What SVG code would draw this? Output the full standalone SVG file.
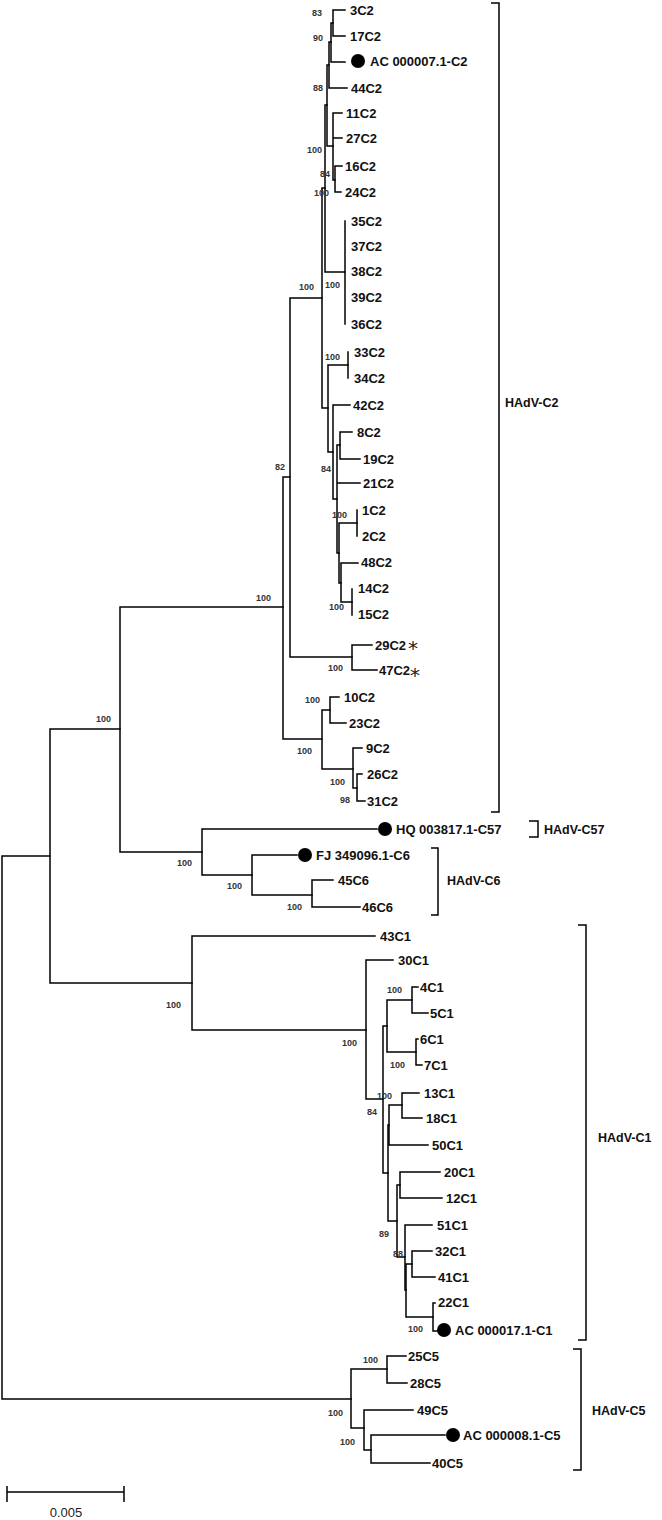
<svg xmlns="http://www.w3.org/2000/svg" width="662" height="1520" viewBox="0 0 662 1520">
<style>
.br{fill:none;stroke:#000;stroke-width:1.5;stroke-linecap:square}
.t{font-family:"Liberation Sans",Arial,sans-serif;font-weight:bold;font-size:13px;fill:#111}
.a{font-family:"DejaVu Sans",sans-serif;font-size:20px;fill:#222}
.b{font-family:"Liberation Sans",Arial,sans-serif;font-weight:bold;font-size:9px;fill:#333}
.g{font-family:"Liberation Sans",Arial,sans-serif;font-weight:bold;font-size:12.5px;fill:#111}
.s{font-family:"Liberation Sans",Arial,sans-serif;font-size:13px;fill:#222}
.k{fill:none;stroke:#000;stroke-width:1.5}
</style>
<rect width="662" height="1520" fill="#fff"/>
<g id="connectors" class="br">
<path d="M2 856V1399M2 856H50M2 1399H351"/>
<path d="M50 729V983M50 729H120M50 983H192"/>
<path d="M120 607V852M120 607H283M120 852H202"/>
<path d="M283 477V739M283 477H290M283 739H322"/>
<path d="M290 298V657M290 298H322M290 657H352"/>
<path d="M322 188V408M322 188H325M322 408H328"/>
<path d="M325 105V272M325 105H327M325 272H345"/>
<path d="M327 65V146M327 65H329M327 146H333"/>
<path d="M329 42V88M329 42H331M329 88H347"/>
<path d="M331 23V62M331 23H333M331 62H345"/>
<path d="M333 10V36M333 10H345M333 36H345"/>
<path d="M333 113V180M333 113H342M333 138H342M333 180H335"/>
<path d="M335 166V192M335 166H342M335 192H341"/>
<path d="M345 221V324"/>
<path d="M328 365V452M328 365H348M328 452H333"/>
<path d="M348 352V378"/>
<path d="M333 405V499M333 405H350M333 499H337"/>
<path d="M337 445V553M337 445H340M337 483H360M337 553H339"/>
<path d="M340 432V459M340 432H352M340 459H360"/>
<path d="M339 523V583M339 523H357M339 583H341"/>
<path d="M357 510V536"/>
<path d="M341 563V602M341 563H358M341 602H352"/>
<path d="M352 589V615"/>
<path d="M352 645V670M352 645H372M352 670H377"/>
<path d="M322 710V769M322 710H330M322 769H353"/>
<path d="M330 697V723M330 697H339M330 723H346"/>
<path d="M353 748V788M353 748H362M353 788H357"/>
<path d="M357 774V801M357 774H362M357 801H365"/>
<path d="M202 829V875M202 829H377M202 875H252"/>
<path d="M252 855V895M252 855H297M252 895H312"/>
<path d="M312 880V907M312 880H333M312 907H360"/>
<path d="M192 936V1030M192 936H375M192 1030H366"/>
<path d="M366 960V1099M366 960H393M366 1099H383"/>
<path d="M383 1026V1173M383 1026H387M383 1173H388"/>
<path d="M387 1000V1052M387 1000H412M387 1052H416"/>
<path d="M412 987V1013M412 987H418M412 1013H428"/>
<path d="M416 1039V1065M416 1039H418M416 1065H422"/>
<path d="M388 1125V1221M388 1125H389M388 1221H397"/>
<path d="M389 1105V1145M389 1105H402M389 1145H428"/>
<path d="M402 1093V1118M402 1093H419M402 1118H422"/>
<path d="M397 1185V1257M397 1185H400M397 1257H405"/>
<path d="M400 1172V1198M400 1172H440M400 1198H442"/>
<path d="M405 1225V1290M405 1225H432M405 1290H406"/>
<path d="M406 1264V1317M406 1264H412M406 1317H433"/>
<path d="M412 1251V1277M412 1251H432M412 1277H435"/>
<path d="M433 1303V1331M433 1303H435M433 1331H437"/>
<path d="M351 1369V1428M351 1369H387M351 1428H364"/>
<path d="M387 1356V1383M387 1356H406M387 1383H407"/>
<path d="M364 1410V1450M364 1410H413M364 1450H371"/>
<path d="M371 1435V1463M371 1435H445M371 1463H430"/>
</g>
<g id="leaves">
<g id="n3C2"><text class="t" x="350" y="15">3C2</text></g>
<g id="n17C2"><text class="t" x="350" y="41">17C2</text></g>
<g id="nAC000007"><circle cx="358" cy="61" r="7"/><text class="t" x="370" y="66">AC 000007.1-C2</text></g>
<g id="n44C2"><text class="t" x="351" y="93">44C2</text></g>
<g id="n11C2"><text class="t" x="346" y="118">11C2</text></g>
<g id="n27C2"><text class="t" x="346" y="143">27C2</text></g>
<g id="n16C2"><text class="t" x="345" y="171">16C2</text></g>
<g id="n24C2"><text class="t" x="345" y="197">24C2</text></g>
<g id="n35C2"><text class="t" x="351" y="226">35C2</text></g>
<g id="n37C2"><text class="t" x="351" y="251">37C2</text></g>
<g id="n38C2"><text class="t" x="351" y="276">38C2</text></g>
<g id="n39C2"><text class="t" x="351" y="302">39C2</text></g>
<g id="n36C2"><text class="t" x="351" y="329">36C2</text></g>
<g id="n33C2"><text class="t" x="354" y="357">33C2</text></g>
<g id="n34C2"><text class="t" x="354" y="383">34C2</text></g>
<g id="n42C2"><text class="t" x="353" y="410">42C2</text></g>
<g id="n8C2"><text class="t" x="357" y="437">8C2</text></g>
<g id="n19C2"><text class="t" x="363" y="464">19C2</text></g>
<g id="n21C2"><text class="t" x="363" y="488">21C2</text></g>
<g id="n1C2"><text class="t" x="362" y="515">1C2</text></g>
<g id="n2C2"><text class="t" x="362" y="541">2C2</text></g>
<g id="n48C2"><text class="t" x="361" y="567">48C2</text></g>
<g id="n14C2"><text class="t" x="358" y="593">14C2</text></g>
<g id="n15C2"><text class="t" x="358" y="619">15C2</text></g>
<g id="n29C2"><text class="t" x="375" y="650">29C2</text><text class="a" x="408" y="655">*</text></g>
<g id="n47C2"><text class="t" x="379" y="675">47C2</text><text class="a" x="410" y="682">*</text></g>
<g id="n10C2"><text class="t" x="344" y="702">10C2</text></g>
<g id="n23C2"><text class="t" x="349" y="728">23C2</text></g>
<g id="n9C2"><text class="t" x="366" y="753">9C2</text></g>
<g id="n26C2"><text class="t" x="367" y="779">26C2</text></g>
<g id="n31C2"><text class="t" x="367" y="806">31C2</text></g>
<g id="nHQ003817"><circle cx="385" cy="829" r="7"/><text class="t" x="396" y="834">HQ 003817.1-C57</text></g>
<g id="nFJ349096"><circle cx="305" cy="855" r="7"/><text class="t" x="316" y="860">FJ 349096.1-C6</text></g>
<g id="n45C6"><text class="t" x="338" y="885">45C6</text></g>
<g id="n46C6"><text class="t" x="362" y="912">46C6</text></g>
<g id="n43C1"><text class="t" x="380" y="941">43C1</text></g>
<g id="n30C1"><text class="t" x="398" y="965">30C1</text></g>
<g id="n4C1"><text class="t" x="420" y="992">4C1</text></g>
<g id="n5C1"><text class="t" x="430" y="1018">5C1</text></g>
<g id="n6C1"><text class="t" x="420" y="1044">6C1</text></g>
<g id="n7C1"><text class="t" x="424" y="1070">7C1</text></g>
<g id="n13C1"><text class="t" x="424" y="1098">13C1</text></g>
<g id="n18C1"><text class="t" x="426" y="1123">18C1</text></g>
<g id="n50C1"><text class="t" x="432" y="1150">50C1</text></g>
<g id="n20C1"><text class="t" x="444" y="1177">20C1</text></g>
<g id="n12C1"><text class="t" x="446" y="1203">12C1</text></g>
<g id="n51C1"><text class="t" x="437" y="1230">51C1</text></g>
<g id="n32C1"><text class="t" x="435" y="1256">32C1</text></g>
<g id="n41C1"><text class="t" x="438" y="1282">41C1</text></g>
<g id="n22C1"><text class="t" x="438" y="1307">22C1</text></g>
<g id="nAC000017"><circle cx="444" cy="1330" r="7"/><text class="t" x="455" y="1335">AC 000017.1-C1</text></g>
<g id="n25C5"><text class="t" x="408" y="1361">25C5</text></g>
<g id="n28C5"><text class="t" x="410" y="1388">28C5</text></g>
<g id="n49C5"><text class="t" x="417" y="1415">49C5</text></g>
<g id="nAC000008"><circle cx="453" cy="1435" r="7"/><text class="t" x="463" y="1440">AC 000008.1-C5</text></g>
<g id="n40C5"><text class="t" x="432" y="1468">40C5</text></g>
</g>
<g id="bootstrap">
<text class="b" x="312" y="16">83</text>
<text class="b" x="313" y="41">90</text>
<text class="b" x="313" y="91">88</text>
<text class="b" x="307" y="153">100</text>
<text class="b" x="320" y="177">84</text>
<text class="b" x="314" y="196">100</text>
<text class="b" x="325" y="288">100</text>
<text class="b" x="299" y="290">100</text>
<text class="b" x="325" y="360">100</text>
<text class="b" x="321" y="472">84</text>
<text class="b" x="332" y="518">100</text>
<text class="b" x="329" y="610">100</text>
<text class="b" x="275" y="470">82</text>
<text class="b" x="328" y="671">100</text>
<text class="b" x="305" y="703">100</text>
<text class="b" x="297" y="754">100</text>
<text class="b" x="330" y="785">100</text>
<text class="b" x="340" y="803">98</text>
<text class="b" x="256" y="601">100</text>
<text class="b" x="96" y="722">100</text>
<text class="b" x="177" y="866">100</text>
<text class="b" x="227" y="889">100</text>
<text class="b" x="287" y="910">100</text>
<text class="b" x="166" y="1008">100</text>
<text class="b" x="342" y="1046">100</text>
<text class="b" x="387" y="993">100</text>
<text class="b" x="390" y="1068">100</text>
<text class="b" x="377" y="1099">100</text>
<text class="b" x="367" y="1115">84</text>
<text class="b" x="379" y="1237">89</text>
<text class="b" x="393" y="1257">88</text>
<text class="b" x="408" y="1332">100</text>
<text class="b" x="363" y="1363">100</text>
<text class="b" x="328" y="1416">100</text>
<text class="b" x="340" y="1445">100</text>
</g>
<g id="brackets">
<g id="cladeC2"><path class="k" d="M491 3H499V812H491"/><text class="g" x="505" y="407">HAdV-C2</text></g>
<g id="cladeC57"><path class="k" d="M529 821H538V837H529"/><text class="g" x="544" y="834">HAdV-C57</text></g>
<g id="cladeC6"><path class="k" d="M431 848H438V915H431"/><text class="g" x="447" y="885">HAdV-C6</text></g>
<g id="cladeC1"><path class="k" d="M578 925H586V1340H578"/><text class="g" x="598" y="1142">HAdV-C1</text></g>
<g id="cladeC5"><path class="k" d="M573 1349H581V1470H573"/><text class="g" x="592" y="1415">HAdV-C5</text></g>
</g>
<g id="scalebar">
<path class="k" d="M7 1492H124M7 1486V1502M124 1486V1502" stroke-width="2"/>
<text class="s" x="66" y="1517" text-anchor="middle">0.005</text>
</g>
</svg>
